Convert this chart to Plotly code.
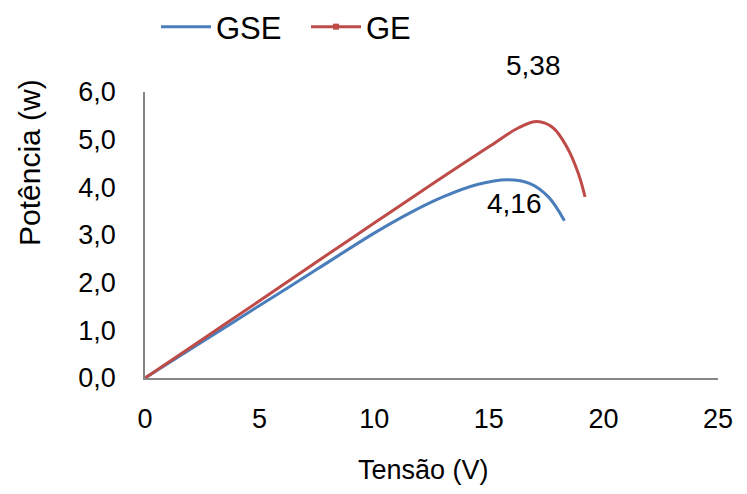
import plotly.graph_objects as go

# Data
gse_v = [0, 2.5, 5, 7.5, 10, 11.5, 13, 14.5, 15.8, 16.8, 17.6, 18.3]
gse_p = [0, 0.76, 1.52, 2.28, 3.04, 3.45, 3.8, 4.06, 4.16, 4.08, 3.8, 3.3]
ge_v = [0, 2.5, 5, 7.5, 10, 12.5, 15, 16.3, 17.1, 17.8, 18.4, 18.9, 19.2]
ge_p = [0, 0.81, 1.62, 2.44, 3.25, 4.06, 4.85, 5.25, 5.38, 5.25, 4.85, 4.3, 3.8]
series_names = ["GSE", "GE"]
peak_gse = 4.16
peak_ge = 5.38
x_ticks = [0, 5, 10, 15, 20, 25]
y_ticks = [0, 1, 2, 3, 4, 5, 6]
y_tick_labels = ["0,0", "1,0", "2,0", "3,0", "4,0", "5,0", "6,0"]

BLUE = "#4a7ebb"
RED = "#be4b48"
FONT = "Liberation Sans, Arial, sans-serif"

# page body has an 8px margin; work in screenshot pixels and convert
OFF = 8
L, R, T, B = 145 - OFF, 718 - OFF, 92 - OFF, 378 - OFF
def px(x):
    return (x - OFF - L) / (R - L)
def py(y):
    return (B - (y - OFF)) / (B - T)

fig = go.Figure()
fig.add_trace(go.Scatter(x=gse_v, y=gse_p, mode="lines", line=dict(color=BLUE, width=3, shape="spline", smoothing=1),
                         showlegend=False, hoverinfo="skip"))
fig.add_trace(go.Scatter(x=ge_v, y=ge_p, mode="lines", line=dict(color=RED, width=3, shape="spline", smoothing=1),
                         showlegend=False, hoverinfo="skip"))
# legend entries
fig.add_trace(go.Scatter(x=[None], y=[None], mode="lines", name=series_names[0], line=dict(color=BLUE, width=3)))
fig.add_trace(go.Scatter(x=[None], y=[None], mode="lines+markers", name=series_names[1], line=dict(color=RED, width=3),
                         marker=dict(symbol="square", size=6, color=RED)))

def fmt(v):
    return f"{v:.2f}".replace(".", ",")

fig.add_annotation(x=px(533), y=py(65), xref="paper", yref="paper", text=fmt(peak_ge), showarrow=False,
                   xanchor="center", yanchor="middle", font=dict(family=FONT, size=28, color="#000"))
fig.add_annotation(x=16.1, y=3.67, xref="x", yref="y", text=fmt(peak_gse), showarrow=False,
                   xanchor="center", yanchor="middle", font=dict(family=FONT, size=28, color="#000"))
fig.add_annotation(x=px(29), y=py(163), xref="paper", yref="paper", text="Potência (w)", showarrow=False,
                   textangle=-90, xanchor="center", yanchor="middle", font=dict(family=FONT, size=30, color="#000"))
fig.add_annotation(x=px(423), y=py(470), xref="paper", yref="paper", text="Tensão (V)", showarrow=False,
                   xanchor="center", yanchor="middle", font=dict(family=FONT, size=27, color="#000"))

fig.update_layout(
    width=747, height=494,
    margin=dict(l=L, r=747 - R, t=T, b=494 - B, autoexpand=False),
    paper_bgcolor="white", plot_bgcolor="white",
    font=dict(family=FONT, size=27, color="#000"),
    showlegend=True,
    legend=dict(orientation="h", x=px(156), y=py(0), xanchor="left", yanchor="top", itemwidth=50,
                entrywidth=85, entrywidthmode="pixels",
                font=dict(family=FONT, size=31, color="#000"), bgcolor="rgba(0,0,0,0)"),
    xaxis=dict(range=[0, 25], tickvals=x_ticks, showgrid=False, zeroline=False, showline=True,
               linecolor="#868686", linewidth=1.5, ticks="outside", ticklen=16, tickcolor="rgba(0,0,0,0)",
               fixedrange=True, automargin=False),
    yaxis=dict(range=[0, 6], tickvals=y_ticks, ticktext=y_tick_labels, showgrid=False, zeroline=False,
               showline=True, linecolor="#868686", linewidth=1.5, ticks="outside", ticklen=22,
               tickcolor="rgba(0,0,0,0)", fixedrange=True, automargin=False),
)
fig.write_html("out.html")
